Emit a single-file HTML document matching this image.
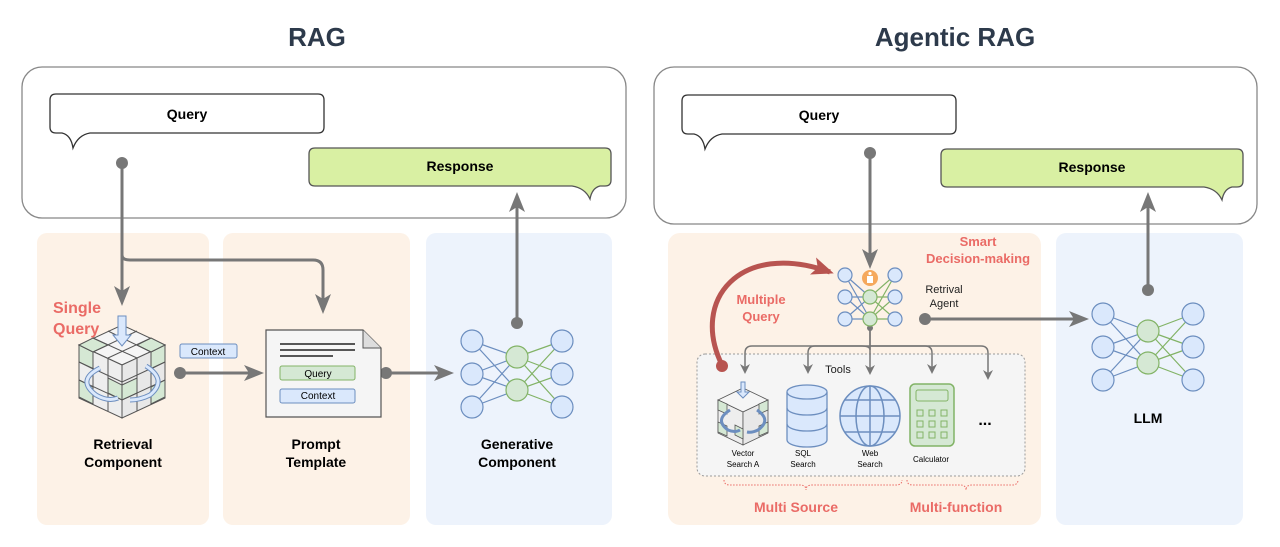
<!DOCTYPE html>
<html><head><meta charset="utf-8"><style>
body{margin:0;background:#fff}
svg{display:block;font-family:"Liberation Sans",Arial,sans-serif}
</style></head><body>
<svg width="1280" height="547" viewBox="0 0 1280 547" xmlns="http://www.w3.org/2000/svg">
<defs>
<marker id="ar" markerWidth="10" markerHeight="10" refX="7" refY="5" orient="auto" markerUnits="userSpaceOnUse"><path d="M0,0 L10,5 L0,10 L3,5 Z" fill="#777"/></marker>
<marker id="ar2" markerWidth="20" markerHeight="16" refX="16" refY="8" orient="auto" markerUnits="userSpaceOnUse"><path d="M0,0 L20,8 L0,16 L5,8 Z" fill="#777"/></marker>
<marker id="arR" markerWidth="22" markerHeight="18" refX="18" refY="9" orient="auto" markerUnits="userSpaceOnUse"><path d="M0,0 L22,9 L0,18 L5,9 Z" fill="#b85450"/></marker>
</defs>

<!-- titles -->
<text x="317" y="46" font-size="26" font-weight="bold" fill="#2d3a4b" text-anchor="middle">RAG</text>
<text x="955" y="46" font-size="26" font-weight="bold" fill="#2d3a4b" text-anchor="middle">Agentic RAG</text>

<!-- lane panels -->
<rect x="37" y="233" width="172" height="292" rx="10" fill="#fdf2e7"/>
<rect x="223" y="233" width="187" height="292" rx="10" fill="#fdf2e7"/>
<rect x="426" y="233" width="186" height="292" rx="10" fill="#edf3fc"/>
<rect x="668" y="233" width="373" height="292" rx="12" fill="#fdf2e7"/>
<rect x="1056" y="233" width="187" height="292" rx="10" fill="#edf3fc"/>

<!-- top boxes -->
<rect x="22" y="67" width="604" height="151" rx="20" fill="#fff" stroke="#888" stroke-width="1.3"/>
<rect x="654" y="67" width="603" height="157" rx="20" fill="#fff" stroke="#888" stroke-width="1.3"/>

<!-- bubbles left -->
<path d="M56,94 H318 Q324,94 324,100 V127 Q324,133 318,133 H90 Q78,135 73,148 Q71,135 62,133 H56 Q50,133 50,127 V100 Q50,94 56,94 Z" fill="#fff" stroke="#333" stroke-width="1.3"/>
<text x="187" y="119" font-size="14" font-weight="bold" text-anchor="middle">Query</text>
<path d="M315,148 H605 Q611,148 611,154 V180 Q611,186 605,186 H600 Q592,188 590,199 Q585,188 572,186 H315 Q309,186 309,180 V154 Q309,148 315,148 Z" fill="#d9f0a3" stroke="#555" stroke-width="1.3"/>
<text x="460" y="171" font-size="14" font-weight="bold" text-anchor="middle">Response</text>

<!-- bubbles right -->
<path d="M688,95 H950 Q956,95 956,101 V128 Q956,134 950,134 H722 Q710,136 705,149 Q703,136 694,134 H688 Q682,134 682,128 V101 Q682,95 688,95 Z" fill="#fff" stroke="#333" stroke-width="1.3"/>
<text x="819" y="120" font-size="14" font-weight="bold" text-anchor="middle">Query</text>
<path d="M947,149 H1237 Q1243,149 1243,155 V181 Q1243,187 1237,187 H1232 Q1224,189 1222,200 Q1217,189 1204,187 H947 Q941,187 941,181 V155 Q941,149 947,149 Z" fill="#d9f0a3" stroke="#555" stroke-width="1.3"/>
<text x="1092" y="172" font-size="14" font-weight="bold" text-anchor="middle">Response</text>

<!-- left connectors -->
<g stroke="#777" stroke-width="3" fill="none">
<path d="M122,163 V302" marker-end="url(#ar2)"/>
<path d="M122,255 Q122,260 130,260 H313 Q323,260 323,270 V310" marker-end="url(#ar2)"/>
<path d="M180,373 H260" marker-end="url(#ar2)"/>
<path d="M386,373 H450" marker-end="url(#ar2)"/>
<path d="M517,323 V196" marker-end="url(#ar2)"/>
</g>
<g fill="#777"><circle cx="122" cy="163" r="6"/><circle cx="180" cy="373" r="6"/><circle cx="386" cy="373" r="6"/><circle cx="517" cy="323" r="6"/></g>

<!-- Single query label -->
<text x="53" y="313" font-size="16" font-weight="bold" fill="#ea6b66">Single</text>
<text x="53" y="334" font-size="16" font-weight="bold" fill="#ea6b66">Query</text>

<!-- cube (left) -->
<g stroke="#555" stroke-width="1">
<polygon points="122,325 165,345 122,365 79,345" fill="#f5f5f5"/>
<polygon points="79,345 122,365 122,418 79,398" fill="#eee"/>
<polygon points="122,365 165,345 165,398 122,418" fill="#e8e8e8"/>
<polygon points="79,345 93,352 93,369 79,362" fill="#d5e8d4"/>
<polygon points="151,352 165,345 165,362 151,369" fill="#d5e8d4"/>
<polygon points="108,378 122,385 122,400 108,393" fill="#d5e8d4"/>
<polygon points="122,385 137,378 137,393 122,400" fill="#d5e8d4"/>
<polygon points="79,380 93,387 93,404 79,397" fill="#d5e8d4"/>
<polygon points="151,387 165,380 165,397 151,404" fill="#d5e8d4"/>
<polygon points="93,338 108,345 93,352 79,345" fill="#d5e8d4"/>
<polygon points="151,338 165,345 151,352 137,345" fill="#d5e8d4"/>
<path d="M93,338 L137,358 M108,331 L151,352 M151,338 L108,358 M137,331 L93,352 M93,352 V405 M108,358 V411 M137,358 V411 M151,352 V405 M79,362 L122,382 L165,362 M79,380 L122,400 L165,380" fill="none"/>
</g>
<path d="M118,316 V335 L113,335 L122,346 L131,335 L126,335 V316 Z" fill="#dae8fc" stroke="#6c8ebf"/>
<path d="M100,368 Q76,380 96,395 Q108,402 118,398" fill="none" stroke="#6c8ebf" stroke-width="5"/>
<path d="M100,368 Q76,380 96,395 Q108,402 118,398" fill="none" stroke="#dae8fc" stroke-width="3"/>
<path d="M146,366 Q168,380 150,395 Q140,400 130,400" fill="none" stroke="#6c8ebf" stroke-width="5"/>
<path d="M146,366 Q168,380 150,395 Q140,400 130,400" fill="none" stroke="#dae8fc" stroke-width="3"/>
<text x="123" y="449" font-size="14" font-weight="bold" text-anchor="middle">Retrieval</text>
<text x="123" y="467" font-size="14" font-weight="bold" text-anchor="middle">Component</text>

<!-- Context tag -->
<rect x="180" y="344" width="57" height="14" rx="2" fill="#dae8fc" stroke="#6c8ebf"/>
<text x="208" y="355" font-size="10" text-anchor="middle">Context</text>

<!-- prompt doc -->
<path d="M266,330 H363 L381,348 V417 H266 Z" fill="#f5f5f5" stroke="#555" stroke-width="1.2"/>
<path d="M363,330 V348 H381" fill="#ddd" stroke="#555"/>
<path d="M280,344 H355 M280,350 H355 M280,356 H333" stroke="#222" stroke-width="1.6"/>
<rect x="280" y="366" width="75" height="14" rx="2" fill="#d5e8d4" stroke="#82b366"/>
<text x="318" y="377" font-size="10" text-anchor="middle">Query</text>
<rect x="280" y="389" width="75" height="14" rx="2" fill="#dae8fc" stroke="#6c8ebf"/>
<text x="318" y="399" font-size="10" text-anchor="middle">Context</text>
<text x="316" y="449" font-size="14" font-weight="bold" text-anchor="middle">Prompt</text>
<text x="316" y="467" font-size="14" font-weight="bold" text-anchor="middle">Template</text>

<!-- left NN -->
<g stroke-width="1.2">
<g stroke="#6c8ebf"><path d="M472,341 L517,357 M472,341 L517,390 M472,374 L517,357 M472,374 L517,390 M472,407 L517,357 M472,407 L517,390"/></g>
<g stroke="#82b366"><path d="M517,357 L562,341 M517,357 L562,374 M517,357 L562,407 M517,390 L562,341 M517,390 L562,374 M517,390 L562,407"/></g>
<g fill="#dae8fc" stroke="#6c8ebf"><circle cx="472" cy="341" r="11"/><circle cx="472" cy="374" r="11"/><circle cx="472" cy="407" r="11"/><circle cx="562" cy="341" r="11"/><circle cx="562" cy="374" r="11"/><circle cx="562" cy="407" r="11"/></g>
<g fill="#d5e8d4" stroke="#82b366"><circle cx="517" cy="357" r="11"/><circle cx="517" cy="390" r="11"/></g>
</g>
<text x="517" y="449" font-size="14" font-weight="bold" text-anchor="middle">Generative</text>
<text x="517" y="467" font-size="14" font-weight="bold" text-anchor="middle">Component</text>

<!-- right connectors -->
<g stroke="#777" stroke-width="3" fill="none">
<path d="M870,153 V265" marker-end="url(#ar2)"/>
<path d="M925,319 H1085" marker-end="url(#ar2)"/>
<path d="M1148,290 V196" marker-end="url(#ar2)"/>
</g>
<g fill="#777"><circle cx="870" cy="153" r="6"/><circle cx="925" cy="319" r="6"/><circle cx="1148" cy="290" r="6"/></g>

<!-- tools box -->
<rect x="697" y="354" width="328" height="122" rx="8" fill="#f5f5f5" stroke="#999" stroke-dasharray="2,2"/>
<g stroke="#777" stroke-width="1.5" fill="none">
<path d="M870,330 V350 Q870,346 862,346 H752 Q745,346 745,353 V371" marker-end="url(#ar)"/>
<path d="M870,346 H815 Q808,346 808,353 V371" marker-end="url(#ar)"/>
<path d="M870,330 V372" marker-end="url(#ar)"/>
<path d="M870,346 H925 Q932,346 932,353 V371" marker-end="url(#ar)"/>
<path d="M870,346 H981 Q988,346 988,353 V377" marker-end="url(#ar)"/>
</g>
<circle cx="870" cy="328" r="3" fill="#777"/>
<text x="838" y="373" font-size="11" fill="#222" text-anchor="middle">Tools</text>

<!-- red arc -->
<path d="M722,365 C690,300 740,240 830,272" fill="none" stroke="#b85450" stroke-width="5" marker-end="url(#arR)"/>
<circle cx="722" cy="366" r="6" fill="#b85450"/>
<text x="761" y="304" font-size="13" font-weight="bold" fill="#ea6b66" text-anchor="middle">Multiple</text>
<text x="761" y="321" font-size="13" font-weight="bold" fill="#ea6b66" text-anchor="middle">Query</text>
<text x="978" y="246" font-size="13" font-weight="bold" fill="#ea6b66" text-anchor="middle">Smart</text>
<text x="978" y="263" font-size="13" font-weight="bold" fill="#ea6b66" text-anchor="middle">Decision-making</text>
<text x="944" y="293" font-size="11" fill="#222" text-anchor="middle">Retrival</text>
<text x="944" y="307" font-size="11" fill="#222" text-anchor="middle">Agent</text>

<!-- agent NN -->
<g stroke-width="1.2">
<g stroke="#6c8ebf"><path d="M845,275 L870,297 M845,275 L870,319 M845,297 L870,297 M845,297 L870,319 M845,319 L870,297 M845,319 L870,319"/></g>
<g stroke="#82b366"><path d="M870,297 L895,275 M870,297 L895,297 M870,297 L895,319 M870,319 L895,275 M870,319 L895,297 M870,319 L895,319"/></g>
<g fill="#dae8fc" stroke="#6c8ebf"><circle cx="845" cy="275" r="7"/><circle cx="845" cy="297" r="7"/><circle cx="845" cy="319" r="7"/><circle cx="895" cy="275" r="7"/><circle cx="895" cy="297" r="7"/><circle cx="895" cy="319" r="7"/></g>
<g fill="#d5e8d4" stroke="#82b366"><circle cx="870" cy="297" r="7"/><circle cx="870" cy="319" r="7"/></g>
<circle cx="870" cy="278" r="8" fill="#f5a85c"/>
<rect x="867" y="276" width="6" height="7" fill="#fff"/><circle cx="870" cy="273.5" r="1.6" fill="#fff"/>
</g>

<!-- tool icons -->
<g stroke="#555" stroke-width="0.8">
<polygon points="743,388 768,400 743,412 718,400" fill="#f5f5f5"/>
<polygon points="718,400 743,412 743,445 718,433" fill="#eee"/>
<polygon points="743,412 768,400 768,433 743,445" fill="#e8e8e8"/>
<polygon points="718,400 727,404 727,414 718,410" fill="#d5e8d4"/>
<polygon points="759,404 768,400 768,410 759,414" fill="#d5e8d4"/>
<polygon points="735,425 743,429 743,439 735,435" fill="#d5e8d4"/>
<polygon points="718,422 727,426 727,436 718,432" fill="#d5e8d4"/>
<polygon points="759,426 768,422 768,432 759,436" fill="#d5e8d4"/>
</g>
<path d="M741,382 V392 L737,392 L743,398 L749,392 L745,392 V382 Z" fill="#dae8fc" stroke="#6c8ebf"/>
<path d="M730,410 Q714,420 728,430 Q735,433 740,430" fill="none" stroke="#6c8ebf" stroke-width="3"/>
<path d="M757,410 Q772,420 758,430 Q752,433 747,432" fill="none" stroke="#6c8ebf" stroke-width="3"/>
<text x="743" y="456" font-size="8" text-anchor="middle">Vector</text>
<text x="743" y="467" font-size="8" text-anchor="middle">Search A</text>

<g fill="#dae8fc" stroke="#6c8ebf" stroke-width="1.3">
<path d="M787,392 V440 A20,7 0 0 0 827,440 V392"/>
<ellipse cx="807" cy="392" rx="20" ry="7"/>
<path d="M787,408 A20,7 0 0 0 827,408 M787,424 A20,7 0 0 0 827,424" fill="none"/>
</g>
<text x="803" y="456" font-size="8" text-anchor="middle">SQL</text>
<text x="803" y="467" font-size="8" text-anchor="middle">Search</text>

<g fill="none" stroke="#6c8ebf" stroke-width="1.5">
<circle cx="870" cy="416" r="30" fill="#dae8fc"/>
<ellipse cx="870" cy="416" rx="14" ry="30"/>
<path d="M870,386 V446 M840,416 H900 M845,400 H895 M845,432 H895"/>
</g>
<text x="870" y="456" font-size="8" text-anchor="middle">Web</text>
<text x="870" y="467" font-size="8" text-anchor="middle">Search</text>

<rect x="910" y="384" width="44" height="62" rx="5" fill="#d5e8d4" stroke="#82b366" stroke-width="1.5"/>
<rect x="916" y="390" width="32" height="11" rx="2" fill="#d5e8d4" stroke="#82b366"/>
<g fill="#d5e8d4" stroke="#82b366"><rect x="917" y="410" width="6" height="6"/><rect x="929" y="410" width="6" height="6"/><rect x="941" y="410" width="6" height="6"/><rect x="917" y="421" width="6" height="6"/><rect x="929" y="421" width="6" height="6"/><rect x="941" y="421" width="6" height="6"/><rect x="917" y="432" width="6" height="6"/><rect x="929" y="432" width="6" height="6"/><rect x="941" y="432" width="6" height="6"/></g>
<text x="931" y="462" font-size="8" text-anchor="middle">Calculator</text>
<text x="985" y="425" font-size="16" font-weight="bold" text-anchor="middle">...</text>

<!-- braces -->
<path d="M724,480 Q724,485 730,485 H800 Q806,485 806,490 Q806,485 812,485 H896 Q902,485 902,480" fill="none" stroke="#ea6b66" stroke-dasharray="1.5,1.5"/>
<path d="M907,480 Q907,485 913,485 H960 Q966,485 966,490 Q966,485 972,485 H1012 Q1018,485 1018,480" fill="none" stroke="#ea6b66" stroke-dasharray="1.5,1.5"/>
<text x="796" y="512" font-size="14" font-weight="bold" fill="#ea6b66" text-anchor="middle">Multi Source</text>
<text x="956" y="512" font-size="14" font-weight="bold" fill="#ea6b66" text-anchor="middle">Multi-function</text>

<!-- LLM NN -->
<g stroke-width="1.2">
<g stroke="#6c8ebf"><path d="M1103,314 L1148,331 M1103,314 L1148,363 M1103,347 L1148,331 M1103,347 L1148,363 M1103,380 L1148,331 M1103,380 L1148,363"/></g>
<g stroke="#82b366"><path d="M1148,331 L1193,314 M1148,331 L1193,347 M1148,331 L1193,380 M1148,363 L1193,314 M1148,363 L1193,347 M1148,363 L1193,380"/></g>
<g fill="#dae8fc" stroke="#6c8ebf"><circle cx="1103" cy="314" r="11"/><circle cx="1103" cy="347" r="11"/><circle cx="1103" cy="380" r="11"/><circle cx="1193" cy="314" r="11"/><circle cx="1193" cy="347" r="11"/><circle cx="1193" cy="380" r="11"/></g>
<g fill="#d5e8d4" stroke="#82b366"><circle cx="1148" cy="331" r="11"/><circle cx="1148" cy="363" r="11"/></g>
</g>
<text x="1148" y="423" font-size="14" font-weight="bold" text-anchor="middle">LLM</text>
</svg>
</body></html>
